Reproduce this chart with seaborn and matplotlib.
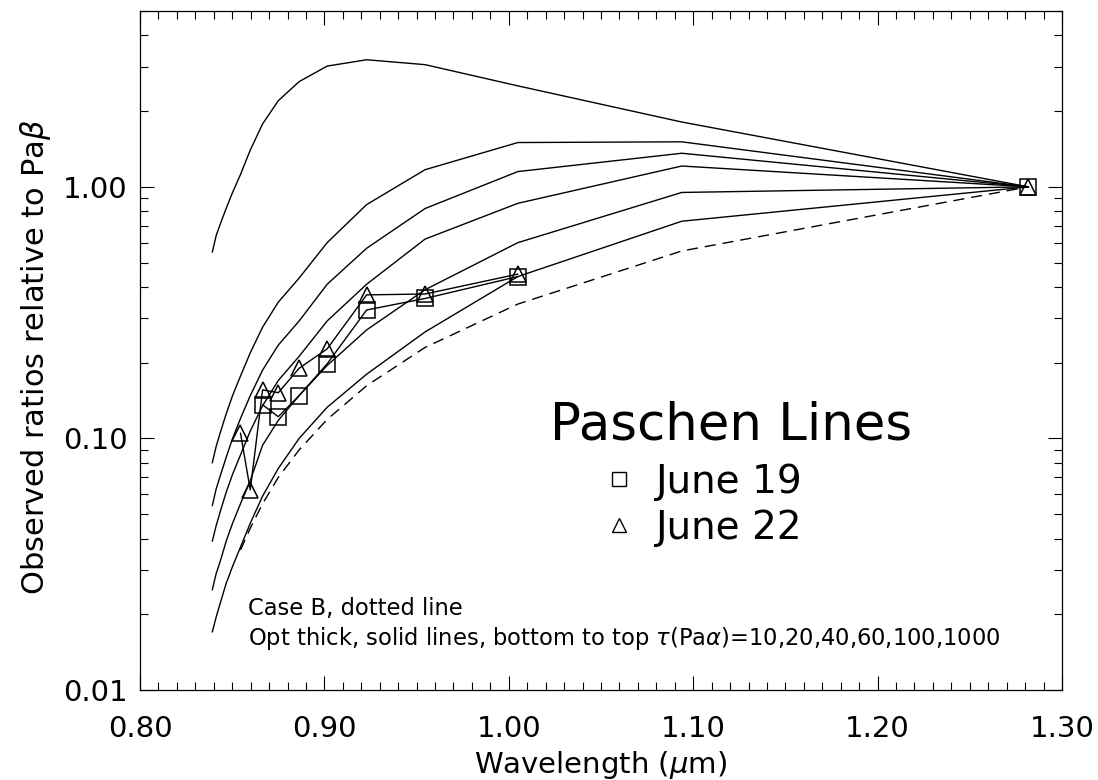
import numpy as np
import pandas as pd
import matplotlib
matplotlib.use("Agg")
import matplotlib.pyplot as plt
import seaborn as sns
from matplotlib.ticker import LogLocator, NullFormatter, MultipleLocator
from matplotlib.lines import Line2D

# ---------------- data ----------------
wavelength = [0.8392, 0.8413, 0.8438, 0.8467, 0.8502, 0.8545, 0.8598, 0.8665,
              0.8750, 0.8863, 0.9015, 0.9229, 0.9546, 1.0049, 1.0938, 1.2818]

tau_1000 = [0.55, 0.64, 0.72, 0.82, 0.95, 1.12, 1.40, 1.78, 2.20, 2.62, 3.02, 3.20, 3.06, 2.52, 1.81, 1.00]
tau_100 = [0.080, 0.093, 0.107, 0.125, 0.148, 0.177, 0.219, 0.277, 0.348, 0.434, 0.60, 0.85, 1.17, 1.50, 1.51, 1.00]
tau_60 = [0.054, 0.063, 0.072, 0.084, 0.100, 0.120, 0.148, 0.187, 0.235, 0.293, 0.41, 0.57, 0.82, 1.15, 1.36, 1.00]
tau_40 = [0.039, 0.045, 0.052, 0.061, 0.072, 0.086, 0.107, 0.135, 0.170, 0.212, 0.293, 0.41, 0.62, 0.86, 1.21, 1.00]
tau_20 = [0.025, 0.029, 0.033, 0.039, 0.046, 0.055, 0.068, 0.094, 0.118, 0.148, 0.195, 0.27, 0.39, 0.60, 0.95, 1.00]
tau_10 = [0.017, 0.0195, 0.0225, 0.0265, 0.031, 0.037, 0.046, 0.059, 0.076, 0.100, 0.133, 0.18, 0.265, 0.44, 0.73, 1.00]

case_b_wave = [0.8545, 0.8598, 0.8665, 0.8750, 0.8863, 0.9015, 0.9229, 0.9546, 1.0049, 1.0938, 1.2818]
case_b = [0.036, 0.044, 0.055, 0.070, 0.090, 0.119, 0.162, 0.23, 0.342, 0.556, 1.00]

june19_wave = [1.0049, 0.9546, 0.9229, 0.9015, 0.8863, 0.8750, 0.8665]
june19_ratio = [0.44, 0.36, 0.324, 0.198, 0.148, 0.122, 0.136]
june22_wave = [1.0049, 0.9546, 0.9229, 0.9015, 0.8863, 0.8750, 0.8665, 0.8598, 0.8545]
june22_ratio = [0.45, 0.375, 0.372, 0.227, 0.19, 0.152, 0.156, 0.0624, 0.105]
pabeta_wave = [1.2818]
pabeta_ratio = [1.00]

x_ticks = [0.80, 0.90, 1.00, 1.10, 1.20, 1.30]
x_ticklabels = ["0.80", "0.90", "1.00", "1.10", "1.20", "1.30"]
y_ticks = [0.01, 0.10, 1.00]
y_ticklabels = ["0.01", "0.10", "1.00"]

# ---------------- style ----------------
sns.set_style("ticks")
plt.rcParams["font.family"] = ["DejaVu Sans"]
plt.rcParams["mathtext.fontset"] = "dejavusans"
for k in ["text.color", "axes.labelcolor", "xtick.color", "ytick.color", "axes.edgecolor"]:
    plt.rcParams[k] = "black"

W, H = 1098, 780
fig = plt.figure(figsize=(W / 100, H / 100), dpi=100)
ax = fig.add_axes([140 / W, 1 - 690 / H, 922 / W, 679 / H])

lw = 1.0
for vals in [tau_10, tau_20, tau_40, tau_60, tau_100, tau_1000]:
    sns.lineplot(x=wavelength, y=vals, ax=ax, color="black", lw=lw,
                 estimator=None, sort=False, legend=False)

sns.lineplot(x=case_b_wave, y=case_b, ax=ax, color="black", lw=lw,
             estimator=None, sort=False, legend=False)
ax.lines[-1].set_dashes([8, 5])

mk = dict(markersize=12, markerfacecolor="none", markeredgecolor="black",
          markeredgewidth=1.1)
sns.lineplot(x=june19_wave, y=june19_ratio, ax=ax, color="black", lw=lw,
             marker="s", estimator=None, sort=False, legend=False, **mk)
sns.lineplot(x=june22_wave, y=june22_ratio, ax=ax, color="black", lw=lw,
             marker="^", estimator=None, sort=False, legend=False, **mk)
sns.lineplot(x=pabeta_wave, y=pabeta_ratio, ax=ax, color="black", lw=0,
             marker="s", estimator=None, sort=False, legend=False, **mk)
sns.lineplot(x=pabeta_wave, y=pabeta_ratio, ax=ax, color="black", lw=0,
             marker="^", estimator=None, sort=False, legend=False, **mk)

ax.set_yscale("log")
ax.set_xlim(0.80, 1.30)
ax.set_ylim(0.01, 5.0)

ax.set_xticks(x_ticks)
ax.set_xticklabels(x_ticklabels)
ax.xaxis.set_minor_locator(MultipleLocator(0.01))
ax.set_yticks(y_ticks)
ax.set_yticklabels(y_ticklabels)
ax.yaxis.set_minor_locator(LogLocator(base=10, subs=np.arange(2, 10)))
ax.yaxis.set_minor_formatter(NullFormatter())

ax.tick_params(which="both", direction="in", top=True, right=True,
               width=0.8, colors="black")
ax.tick_params(which="major", length=10)
ax.tick_params(which="minor", length=5.5)
ax.tick_params(axis="x", which="major", pad=18, labelsize=21)
ax.tick_params(axis="y", which="major", pad=9, labelsize=21)
for s in ax.spines.values():
    s.set_linewidth(0.9)
    s.set_color("black")

ax.set_xlabel(r"Wavelength ($\mu$m)", fontsize=21, labelpad=4)
ax.set_ylabel(r"Observed ratios relative to Pa$\beta$", fontsize=22)
ax.yaxis.set_label_coords(-0.094, 0.49)

ax.text((550 - 140) / 922, (690 - 440) / 679, "Paschen Lines", transform=ax.transAxes,
        fontsize=37, va="baseline", ha="left")

handles = [Line2D([], [], ls="none", marker="s", markersize=10, markerfacecolor="none",
                  markeredgecolor="black", markeredgewidth=1.0),
           Line2D([], [], ls="none", marker="^", markersize=10, markerfacecolor="none",
                  markeredgecolor="black", markeredgewidth=1.0)]
ax.legend(handles, ["June 19", "June 22"], loc="upper left",
          bbox_to_anchor=((600 - 140) / 922, (690 - 463) / 679), frameon=False,
          fontsize=28, handlelength=1.0, handletextpad=0.45, borderpad=0,
          borderaxespad=0, labelspacing=0.2, labelcolor="black")

ax.text((248 - 140) / 922, (690 - 615) / 679, "Case B, dotted line",
        transform=ax.transAxes, fontsize=16.3, va="baseline", ha="left")
ax.text((248 - 140) / 922, (690 - 645) / 679,
        r"Opt thick, solid lines, bottom to top $\tau$(Pa$\alpha$)=10,20,40,60,100,1000",
        transform=ax.transAxes, fontsize=16.3, va="baseline", ha="left")

fig.savefig("out.png", dpi=100)
